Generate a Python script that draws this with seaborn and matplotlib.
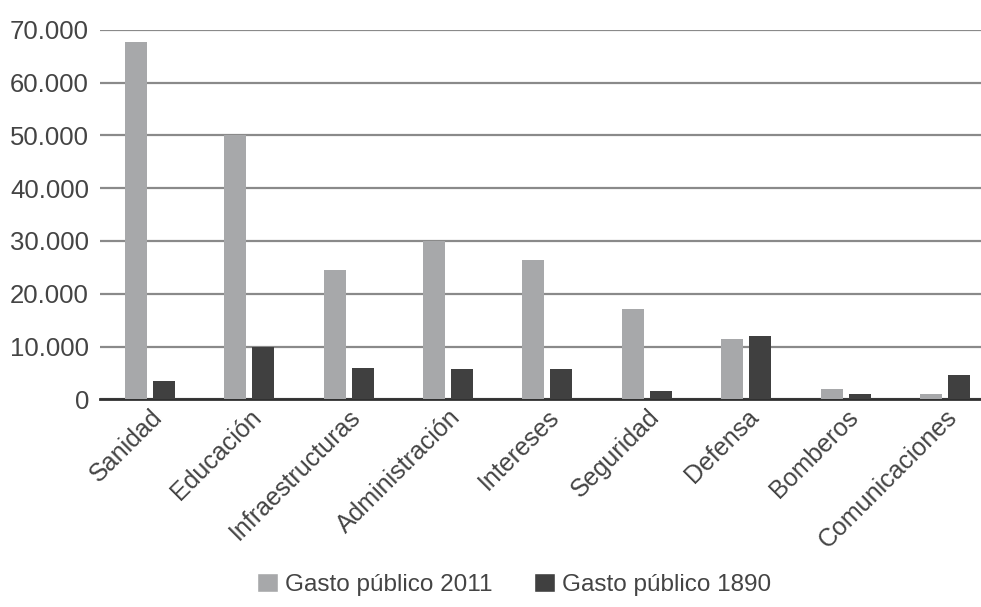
import pandas as pd
import seaborn as sns
import matplotlib.pyplot as plt
from matplotlib.ticker import FuncFormatter
from matplotlib.patches import Patch

categorias = ['Sanidad', 'Educación', 'Infraestructuras', 'Administración', 'Intereses',
              'Seguridad', 'Defensa', 'Bomberos', 'Comunicaciones']
gasto_2011 = [67700, 50000, 24500, 30000, 26400, 17200, 11400, 1900, 1000]
gasto_1890 = [3500, 10000, 5900, 5700, 5800, 1600, 12100, 1100, 4600]
series = ['Gasto público 2011', 'Gasto público 1890']
colores = ['#a7a8aa', '#404040']
yticks = [0, 10000, 20000, 30000, 40000, 50000, 60000, 70000]

df = pd.DataFrame({
    'categoria': categorias * 2,
    'valor': gasto_2011 + gasto_1890,
    'serie': [series[0]] * len(categorias) + [series[1]] * len(categorias),
})

sns.set_style('white')
plt.rcParams['font.family'] = ['Liberation Sans', 'DejaVu Sans']

fig, ax = plt.subplots(figsize=(9.81, 6.07), dpi=100)
# the plot area runs past the right edge of the picture, as in the original
fig.subplots_adjust(left=0.102, right=1.014, bottom=0.342, top=0.951)

sns.barplot(data=df, x='categoria', y='valor', hue='serie', palette=colores,
            width=0.563, gap=0.21, saturation=1, linewidth=0, ax=ax, legend=False, zorder=3)

ax.set_ylim(0, 70000)
ax.set_xlim(-0.5, len(categorias) - 0.5)
ax.set_yticks(yticks)
ax.yaxis.set_major_formatter(FuncFormatter(lambda v, p: f'{int(v):,}'.replace(',', '.')))
ax.grid(axis='y', color='#8a8a8a', linewidth=1.6, zorder=0)
ax.set_axisbelow(True)
for s in ['top', 'right', 'left']:
    ax.spines[s].set_visible(False)
ax.spines['bottom'].set_color('#303030')
ax.spines['bottom'].set_linewidth(2)
ax.set_xlabel('')
ax.set_ylabel('')
ax.tick_params(axis='y', length=0, labelsize=18.5, colors='#444444', pad=8)
ax.tick_params(axis='x', length=0, labelsize=18, colors='#444444', pad=4)
plt.setp(ax.get_xticklabels(), rotation=45, ha='right', rotation_mode='anchor')

handles = [Patch(facecolor=c, label=s) for c, s in zip(colores, series)]
fig.legend(handles=handles, loc='lower center', bbox_to_anchor=(0.524, -0.018), ncol=2,
           frameon=False, fontsize=17.5, handlelength=0.85, handleheight=0.85,
           handletextpad=0.3, columnspacing=1.7, labelcolor='#444444')

fig.savefig('out.png', dpi=100)
